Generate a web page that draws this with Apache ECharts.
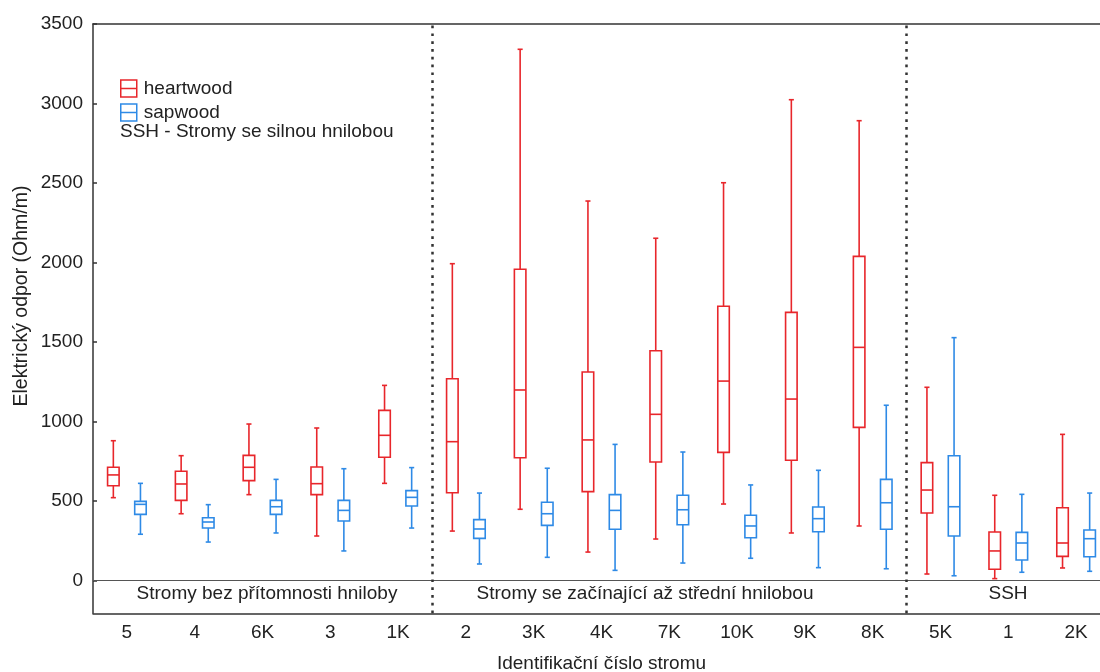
<!DOCTYPE html>
<html>
<head>
<meta charset="utf-8">
<script src="https://cdn.jsdelivr.net/npm/echarts@6/dist/echarts.min.js"></script>
<style>html,body{margin:0;padding:0;background:#fff}#c{width:1100px;height:672px}</style>
</head>
<body>
<div id="c"></div>
<script>
const categories = ['5','4','6K','3','1K','2','3K','4K','7K','10K','9K','8K','5K','1','2K'];
const heartMin    = [522, 421, 541, 281, 612, 312, 449, 180, 262, 482, 300, 344, 42, 13, 80];
const heartQ1     = [597, 505, 629, 541, 776, 553, 773, 560, 746, 807, 757, 964, 426, 72, 153];
const heartMedian = [665, 608, 713, 610, 914, 874, 1199, 885, 1046, 1255, 1142, 1467, 570, 187, 237];
const heartQ3     = [713, 688, 788, 715, 1071, 1270, 1958, 1312, 1446, 1725, 1687, 2039, 742, 306, 459];
const heartMax    = [880, 786, 985, 960, 1228, 1993, 3341, 2387, 2153, 2502, 3024, 2892, 1216, 537, 920];
const sapMin      = [292, 243, 300, 187, 331, 105, 147, 65, 111, 141, 82, 75, 31, 53, 59];
const sapQ1       = [417, 331, 417, 375, 470, 266, 348, 323, 352, 270, 308, 323, 281, 130, 151];
const sapMedian   = [480, 369, 465, 442, 524, 325, 421, 442, 446, 344, 390, 490, 465, 237, 264];
const sapQ3       = [499, 396, 505, 505, 566, 384, 493, 541, 537, 411, 463, 637, 786, 304, 319];
const sapMax      = [612, 478, 637, 704, 711, 551, 707, 857, 809, 602, 694, 1103, 1528, 543, 551];
const yTicks = [0, 500, 1000, 1500, 2000, 2500, 3000, 3500];
const groupBreaks = [4.5, 11.5];
const groupLabels = ['Stromy bez přítomnosti hniloby', 'Stromy se začínající až střední hnilobou', 'SSH'];

const RED = '#e8262b', BLUE = '#2e8ae6', INK = '#222';
const FONT = '"Liberation Sans", Arial, sans-serif';

function build(mins, q1, med, q3, maxs) {
  return categories.map((c, i) => [i, mins[i], q1[i], med[i], q3[i], maxs[i]]);
}

function makeRender(sign, color) {
  return function (params, api) {
    const idx = api.value(0);
    const bw = api.size([1, 0])[0];
    const off = sign * bw * 0.2;
    const boxW = bw * 0.17;
    const capW = bw * 0.075;
    const pLow = api.coord([idx, api.value(1)]);
    const pQ1 = api.coord([idx, api.value(2)]);
    const pMed = api.coord([idx, api.value(3)]);
    const pQ3 = api.coord([idx, api.value(4)]);
    const pHigh = api.coord([idx, api.value(5)]);
    const x = pLow[0] + off;
    const st = { stroke: color, lineWidth: 1.6, fill: null };
    return {
      type: 'group',
      children: [
        { type: 'line', shape: { x1: x, y1: pHigh[1], x2: x, y2: pQ3[1] }, style: st },
        { type: 'line', shape: { x1: x, y1: pQ1[1], x2: x, y2: pLow[1] }, style: st },
        { type: 'line', shape: { x1: x - capW / 2, y1: pHigh[1], x2: x + capW / 2, y2: pHigh[1] }, style: st },
        { type: 'line', shape: { x1: x - capW / 2, y1: pLow[1], x2: x + capW / 2, y2: pLow[1] }, style: st },
        { type: 'rect', shape: { x: x - boxW / 2, y: pQ3[1], width: boxW, height: pQ1[1] - pQ3[1] }, style: { stroke: color, lineWidth: 1.6, fill: 'rgba(0,0,0,0)' } },
        { type: 'line', shape: { x1: x - boxW / 2, y1: pMed[1], x2: x + boxW / 2, y2: pMed[1] }, style: st }
      ]
    };
  };
}

const chart = echarts.init(document.getElementById('c'), null, { renderer: 'canvas' });
const iconPath = 'path://M0,0L16,0L16,17L0,17Z M0,8.5L16,8.5';
chart.setOption({
  animation: false,
  textStyle: { fontFamily: FONT },
  grid: { left: 93, top: 24, right: -10, bottom: 58.7, outerBoundsMode: 'none', containLabel: false },
  legend: {
    left: 120, top: 79, orient: 'vertical', padding: 0,
    itemWidth: 16, itemHeight: 17, itemGap: 5,
    textStyle: { fontSize: 19, color: INK, fontFamily: FONT, padding: [0, 0, 0, 2] },
    data: [
      { name: 'heartwood', icon: iconPath, itemStyle: { color: 'rgba(0,0,0,0)', borderColor: RED, borderWidth: 1.5 } },
      { name: 'sapwood', icon: iconPath, itemStyle: { color: 'rgba(0,0,0,0)', borderColor: BLUE, borderWidth: 1.5 } }
    ]
  },
  graphic: [
    { type: 'text', x: 120, y: 132, style: { text: 'SSH - Stromy se silnou hnilobou', font: '19px ' + FONT, fill: INK, align: 'left', verticalAlign: 'middle' } },
    { type: 'text', x: 22, y: 296, rotation: Math.PI / 2, style: { text: 'Elektrický odpor (Ohm/m)', font: '19.5px ' + FONT, fill: INK, align: 'center', verticalAlign: 'middle' } },
    { type: 'text', x: 267, y: 594, style: { text: groupLabels[0], font: '19px ' + FONT, fill: INK, align: 'center', verticalAlign: 'middle' } },
    { type: 'text', x: 645, y: 594, style: { text: groupLabels[1], font: '19px ' + FONT, fill: INK, align: 'center', verticalAlign: 'middle' } },
    { type: 'text', x: 1008, y: 594, style: { text: groupLabels[2], font: '19px ' + FONT, fill: INK, align: 'center', verticalAlign: 'middle' } }
  ],
  xAxis: [
    {
      type: 'category', data: categories, position: 'bottom',
      name: 'Identifikační číslo stromu', nameLocation: 'middle', nameGap: 41,
      nameTextStyle: { fontSize: 19, color: INK, fontFamily: FONT },
      axisLine: { onZero: false, lineStyle: { color: '#333', width: 1.5 } },
      axisTick: { alignWithLabel: true, inside: true, length: 4, lineStyle: { color: '#333', width: 1.5 } },
      axisLabel: { fontSize: 19, color: INK, margin: 10, fontFamily: FONT },
      splitLine: { show: false }
    },
    {
      type: 'category', data: categories, position: 'top',
      axisLine: { onZero: false, lineStyle: { color: '#333', width: 1.5 } },
      axisTick: { alignWithLabel: true, inside: true, length: 4, lineStyle: { color: '#333', width: 1.5 } },
      axisLabel: { show: false }, splitLine: { show: false }
    },
    { type: 'value', min: -0.5, max: categories.length - 0.5, show: false, axisLine: { onZero: false } }
  ],
  yAxis: {
    type: 'value', min: -205, max: 3500, position: 'left',
    axisLine: { show: true, onZero: false, lineStyle: { color: '#333', width: 1.5 } },
    axisTick: { show: true, inside: true, length: 4, customValues: yTicks, lineStyle: { color: '#333', width: 1.5 } },
    axisLabel: { fontSize: 19, color: INK, margin: 10, customValues: yTicks, fontFamily: FONT, formatter: v => String(v) },
    splitLine: { show: false }
  },
  series: [
    {
      name: 'heartwood', type: 'custom', xAxisIndex: 0,
      itemStyle: { color: RED },
      encode: { x: 0, y: [1, 2, 3, 4, 5] },
      renderItem: makeRender(-1, RED),
      data: build(heartMin, heartQ1, heartMedian, heartQ3, heartMax),
      markLine: {
        silent: true, symbol: 'none', label: { show: false },
        lineStyle: { color: '#555', width: 1, type: 'solid' },
        data: [{ yAxis: 0 }]
      },
      z: 3
    },
    {
      name: 'sapwood', type: 'custom', xAxisIndex: 0,
      itemStyle: { color: BLUE },
      encode: { x: 0, y: [1, 2, 3, 4, 5] },
      renderItem: makeRender(1, BLUE),
      data: build(sapMin, sapQ1, sapMedian, sapQ3, sapMax),
      z: 3
    },
    {
      name: 'groups', type: 'line', xAxisIndex: 2, data: [],
      markLine: {
        silent: true, symbol: 'none', label: { show: false },
        lineStyle: { color: '#333', width: 2.5, type: [2.7, 5.1] },
        data: groupBreaks.map(v => ({ xAxis: v }))
      }
    }
  ]
});
</script>
</body>
</html>
